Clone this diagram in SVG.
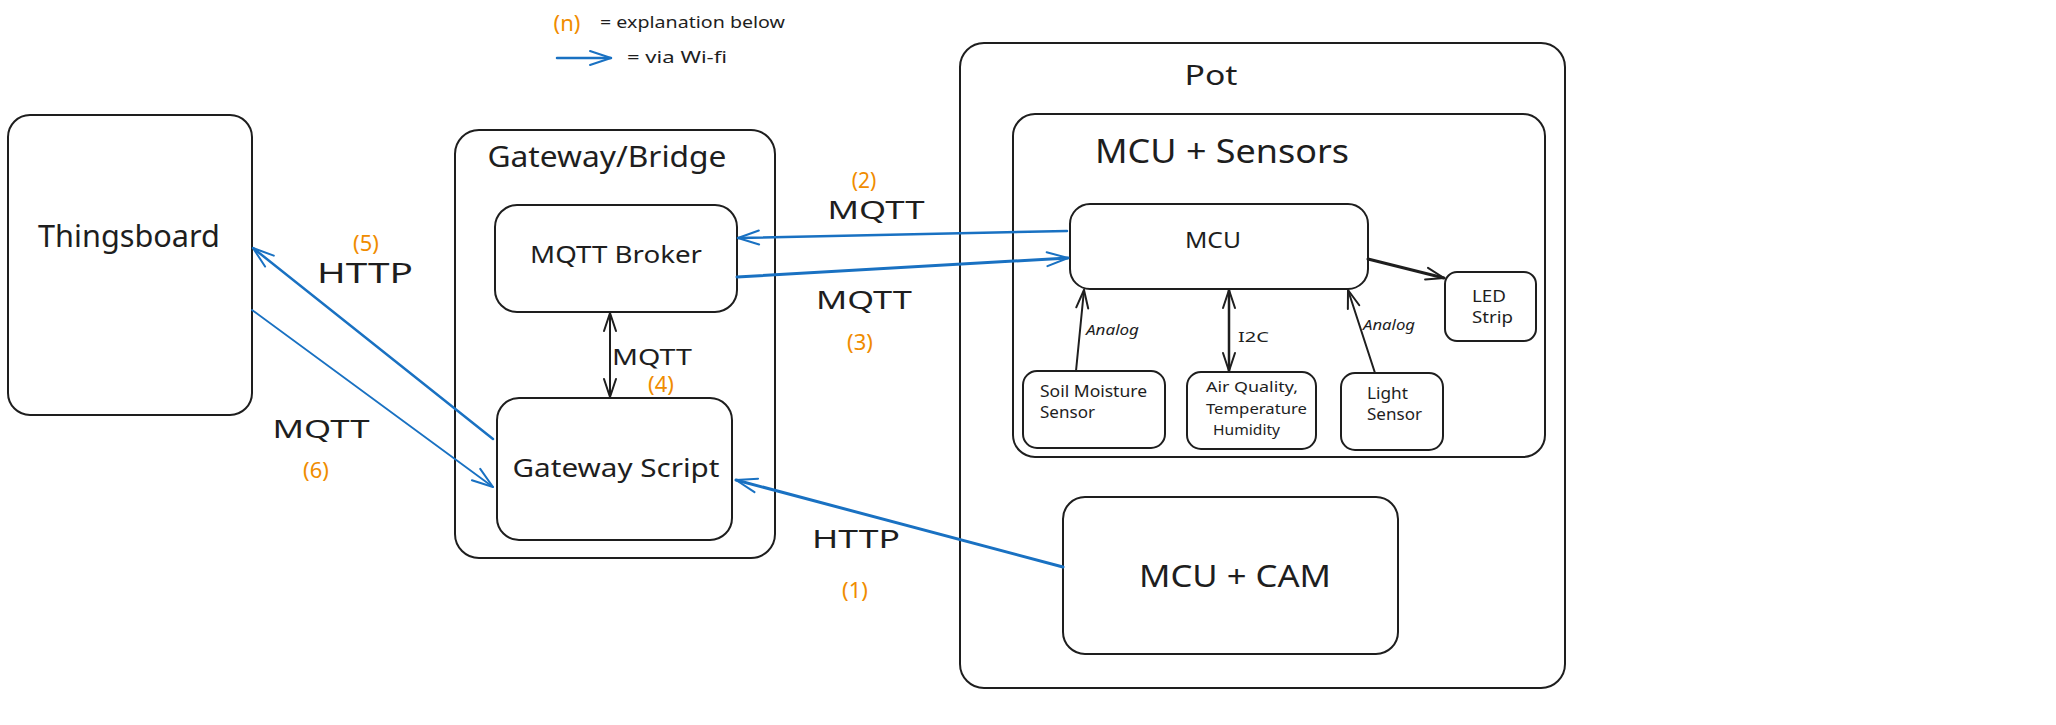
<svg xmlns="http://www.w3.org/2000/svg" width="2056" height="725" viewBox="0 0 2056 725">
<style>
.box{fill:none;stroke:#1e1e1e;stroke-width:2}
.t{font-family:"Noto Sans","DejaVu Sans",sans-serif;fill:#1e1e1e}
.n{font-family:"Noto Sans","DejaVu Sans",sans-serif;fill:#f08c00}
.blue{fill:none;stroke:#1971c2;stroke-linecap:round}
.blk{fill:none;stroke:#1e1e1e;stroke-linecap:round}
</style>
<defs>
<marker id="ab" markerUnits="userSpaceOnUse" markerWidth="30" markerHeight="20" viewBox="-24 -10 28 20" refX="0" refY="0" orient="auto">
<path d="M-21 -7 L0 0 L-21 7" fill="none" stroke="#1971c2" stroke-width="2" stroke-linecap="round" stroke-linejoin="round"/>
</marker>
<marker id="ak" markerUnits="userSpaceOnUse" markerWidth="30" markerHeight="20" viewBox="-24 -10 28 20" refX="0" refY="0" orient="auto-start-reverse">
<path d="M-18 -6 L0 0 L-18 6" fill="none" stroke="#1e1e1e" stroke-width="2" stroke-linecap="round" stroke-linejoin="round"/>
</marker>
</defs>
<rect width="2056" height="725" fill="#ffffff"/>

<g id="legend">
<text class="n" x="567" y="31" font-size="22" text-anchor="middle">(n)</text>
<text class="t" x="600" y="28" font-size="17" textLength="185" lengthAdjust="spacingAndGlyphs">= explanation below</text>
<line class="blue" x1="557" y1="58" x2="611" y2="58" stroke-width="2.5" marker-end="url(#ab)"/>
<text class="t" x="627" y="63" font-size="17" textLength="100" lengthAdjust="spacingAndGlyphs">= via Wi-fi</text>
</g>

<g id="thingsboard">
<rect class="box" x="8" y="115" width="244" height="300" rx="22"/>
<text class="t" x="129" y="247" font-size="30" text-anchor="middle" textLength="182" lengthAdjust="spacingAndGlyphs">Thingsboard</text>
</g>

<g id="gateway-bridge">
<rect class="box" x="455" y="130" width="320" height="428" rx="24"/>
<text class="t" x="607" y="167" font-size="29" text-anchor="middle" textLength="239" lengthAdjust="spacingAndGlyphs">Gateway/Bridge</text>
</g>

<g id="mqtt-broker">
<rect class="box" x="495" y="205" width="242" height="107" rx="22"/>
<text class="t" x="616" y="263" font-size="24" text-anchor="middle" textLength="172" lengthAdjust="spacingAndGlyphs">MQTT Broker</text>
</g>

<g id="gateway-script">
<rect class="box" x="497" y="398" width="235" height="142" rx="22"/>
<text class="t" x="616" y="477" font-size="26" text-anchor="middle" textLength="207" lengthAdjust="spacingAndGlyphs">Gateway Script</text>
</g>

<g id="pot">
<rect class="box" x="960" y="43" width="605" height="645" rx="24"/>
<text class="t" x="1211" y="85" font-size="28" text-anchor="middle" textLength="53" lengthAdjust="spacingAndGlyphs">Pot</text>
</g>

<g id="mcu-sensors">
<rect class="box" x="1013" y="114" width="532" height="343" rx="22"/>
<text class="t" x="1222" y="163" font-size="32" text-anchor="middle" textLength="254" lengthAdjust="spacingAndGlyphs">MCU + Sensors</text>
</g>

<g id="mcu">
<rect class="box" x="1070" y="204" width="298" height="85" rx="20"/>
<text class="t" x="1213" y="248" font-size="22" text-anchor="middle" textLength="56" lengthAdjust="spacingAndGlyphs">MCU</text>
</g>

<g id="led-strip">
<rect class="box" x="1445" y="272" width="91" height="69" rx="12"/>
<text class="t" x="1472" y="302" font-size="16" textLength="34" lengthAdjust="spacingAndGlyphs">LED</text>
<text class="t" x="1472" y="323" font-size="16" textLength="41" lengthAdjust="spacingAndGlyphs">Strip</text>
</g>

<g id="soil-moisture-sensor">
<rect class="box" x="1023" y="371" width="142" height="77" rx="14"/>
<text class="t" x="1040" y="397" font-size="16" textLength="107" lengthAdjust="spacingAndGlyphs">Soil Moisture</text>
<text class="t" x="1040" y="418" font-size="16" textLength="55" lengthAdjust="spacingAndGlyphs">Sensor</text>
</g>

<g id="air-quality-sensor">
<rect class="box" x="1187" y="372" width="129" height="77" rx="14"/>
<text class="t" x="1206" y="392" font-size="15" textLength="92" lengthAdjust="spacingAndGlyphs">Air Quality,</text>
<text class="t" x="1206" y="414" font-size="15" textLength="101" lengthAdjust="spacingAndGlyphs">Temperature</text>
<text class="t" x="1213" y="435" font-size="15" textLength="67" lengthAdjust="spacingAndGlyphs">Humidity</text>
</g>

<g id="light-sensor">
<rect class="box" x="1341" y="373" width="102" height="77" rx="14"/>
<text class="t" x="1367" y="399" font-size="16" textLength="41" lengthAdjust="spacingAndGlyphs">Light</text>
<text class="t" x="1367" y="420" font-size="16" textLength="55" lengthAdjust="spacingAndGlyphs">Sensor</text>
</g>

<g id="mcu-cam">
<rect class="box" x="1063" y="497" width="335" height="157" rx="22"/>
<text class="t" x="1235" y="587" font-size="31" text-anchor="middle" textLength="192" lengthAdjust="spacingAndGlyphs">MCU + CAM</text>
</g>

<g id="connectors">
<line class="blue" x1="1063" y1="567" x2="736" y2="480" stroke-width="3" marker-end="url(#ab)"/>
<line class="blue" x1="1067" y1="231" x2="738" y2="238" stroke-width="2.5" marker-end="url(#ab)"/>
<line class="blue" x1="737" y1="277" x2="1068" y2="258" stroke-width="3" marker-end="url(#ab)"/>
<line class="blue" x1="493" y1="439" x2="253" y2="248" stroke-width="2.5" marker-end="url(#ab)"/>
<line class="blue" x1="252" y1="310" x2="493" y2="487" stroke-width="1.8" marker-end="url(#ab)"/>
<line class="blk" x1="610" y1="313" x2="610" y2="397" stroke-width="2" marker-start="url(#ak)" marker-end="url(#ak)"/>
<line class="blk" x1="1368" y1="259" x2="1444" y2="278" stroke-width="3" marker-end="url(#ak)"/>
<line class="blk" x1="1076" y1="371" x2="1084" y2="290" stroke-width="2" marker-end="url(#ak)"/>
<line class="blk" x1="1229" y1="290" x2="1229" y2="371" stroke-width="2.5" marker-start="url(#ak)" marker-end="url(#ak)"/>
<line class="blk" x1="1375" y1="373" x2="1348" y2="290" stroke-width="2" marker-end="url(#ak)"/>

<text class="t" x="1086" y="335" font-size="14" font-style="italic" textLength="53" lengthAdjust="spacingAndGlyphs">Analog</text>
<text class="t" x="1238" y="342" font-size="14" textLength="31" lengthAdjust="spacingAndGlyphs">I2C</text>
<text class="t" x="1363" y="330" font-size="14" font-style="italic" textLength="52" lengthAdjust="spacingAndGlyphs">Analog</text>

<text class="t" x="652" y="365" font-size="22" text-anchor="middle" textLength="80" lengthAdjust="spacingAndGlyphs">MQTT</text>
<text class="n" x="661" y="392" font-size="22" text-anchor="middle">(4)</text>

<text class="n" x="864" y="188" font-size="21" text-anchor="middle">(2)</text>
<text class="t" x="876" y="219" font-size="26" text-anchor="middle" textLength="97" lengthAdjust="spacingAndGlyphs">MQTT</text>
<text class="t" x="864" y="309" font-size="26" text-anchor="middle" textLength="96" lengthAdjust="spacingAndGlyphs">MQTT</text>
<text class="n" x="860" y="350" font-size="22" text-anchor="middle">(3)</text>
<text class="t" x="856" y="548" font-size="26" text-anchor="middle" textLength="88" lengthAdjust="spacingAndGlyphs">HTTP</text>
<text class="n" x="855" y="598" font-size="22" text-anchor="middle">(1)</text>

<text class="n" x="366" y="251" font-size="22" text-anchor="middle">(5)</text>
<text class="t" x="365" y="283" font-size="27" text-anchor="middle" textLength="96" lengthAdjust="spacingAndGlyphs">HTTP</text>
<text class="t" x="321" y="438" font-size="26" text-anchor="middle" textLength="97" lengthAdjust="spacingAndGlyphs">MQTT</text>
<text class="n" x="316" y="478" font-size="22" text-anchor="middle">(6)</text>
</g>
</svg>
